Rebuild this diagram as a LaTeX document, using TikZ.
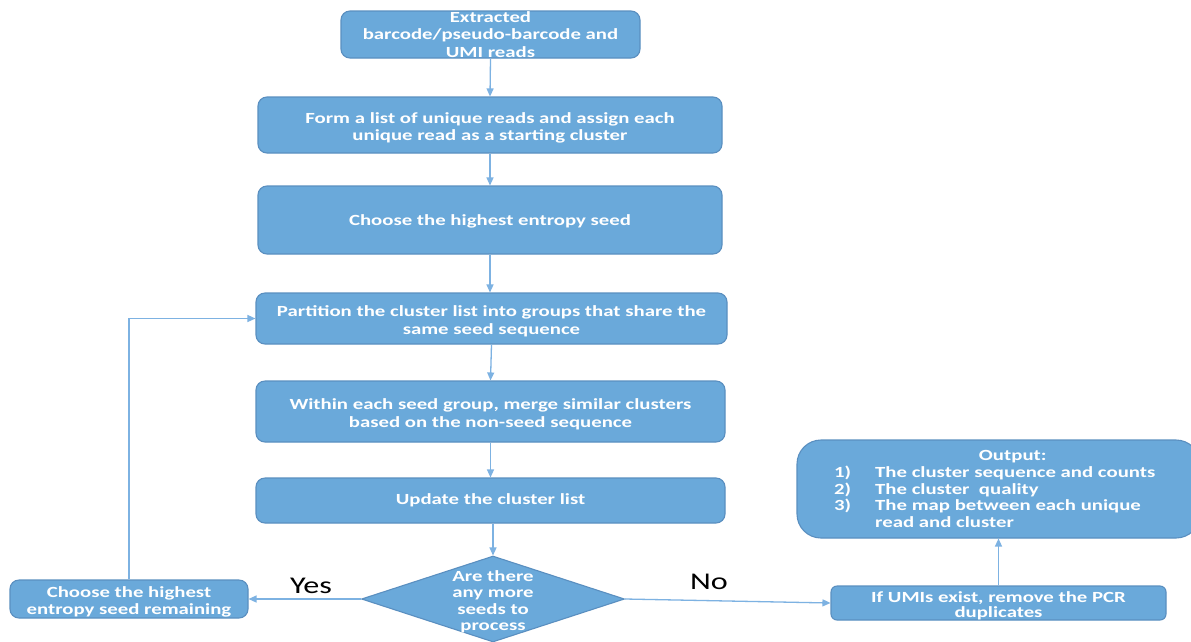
\documentclass[tikz,border=0pt]{standalone}
\usepackage{fontspec}
\setmainfont{Carlito}[FakeStretch=1.34]
\usetikzlibrary{shapes.geometric,arrows.meta}
\definecolor{boxfill}{HTML}{6AA9DA}
\definecolor{boxedge}{HTML}{5A8FC0}
\definecolor{linkc}{HTML}{7DB2E2}
% a taller first line lowers a text block inside its box
\newcommand{\lowerby}{\rule{0pt}{16.5pt}}
\begin{document}
\begin{tikzpicture}[x=1pt,y=-1pt,
  box/.style={draw=boxedge, line width=1.1pt, fill=boxfill, rounded corners=9pt,
    text=white, font=\bfseries\fontsize{15.5}{17.5}\selectfont, align=center, inner sep=0pt},
  link/.style={draw=linkc, line width=1.3pt, -{Triangle[length=8pt,width=7pt]}},
  answer/.style={font=\fontsize{24}{26}\selectfont, text=black, inner sep=0pt}]
\useasboundingbox (0,0) rectangle (1191,641);
\fill[white] (0,0) rectangle (1191,641);

% main column
\node[box, minimum width=299pt, minimum height=47pt] (extr) at (490.5,34.5)
  {Extracted\\barcode/pseudo-barcode and\\UMI reads};
\node[box, minimum width=464pt, minimum height=56pt] (form) at (490,125)
  {\lowerby Form a list of unique reads and assign each\\unique read as a starting cluster};
\node[box, minimum width=464pt, minimum height=68pt] (seed) at (490,220)
  {\rule{0pt}{14pt}Choose the highest entropy seed};
\node[box, minimum width=471pt, minimum height=51pt] (part) at (491.5,318.5)
  {\lowerby Partition the cluster list into groups that share the\\same seed sequence};
\node[box, minimum width=469pt, minimum height=61pt] (merge) at (490.5,411.5)
  {\lowerby Within each seed group, merge similar clusters\\based on the non-seed sequence};
\node[box, minimum width=469pt, minimum height=45pt] (upd) at (490.5,500.5)
  {Update the cluster list};

% decision
\node[diamond, draw=boxedge, line width=1.1pt, fill=boxfill, minimum width=263pt,
  minimum height=86pt, inner sep=0pt] (dec) at (493,599) {};
\node[text=white, font=\bfseries\fontsize{15.5}{16.5}\selectfont, align=center,
  inner sep=0pt] (dectxt) at (493,602) {Are there\\any more\\seeds to\\process};

% side boxes
\node[box, minimum width=238pt, minimum height=38pt] (rem) at (129,599)
  {\lowerby Choose the highest\\entropy seed remaining};
\node[box, minimum width=335pt, minimum height=34pt, rounded corners=6pt,
  font=\bfseries\fontsize{15.5}{15}\selectfont] (umi) at (998.5,603)
  {\lowerby If UMIs exist, remove the PCR\\duplicates};
\node[box, minimum width=403pt, minimum height=98pt, rounded corners=24pt] (out) at (998.5,489) {};
\node[text=white, font=\bfseries\fontsize{15.5}{16.8}\selectfont, inner sep=0pt,
  anchor=north west] (outtxt) at (834,448.5)
  {\begin{tabular}{@{}l@{\hspace{24pt}}l@{}}
    \multicolumn{2}{@{}c@{}}{\hspace{36pt}Output:}\\[0pt]
    1) & The cluster sequence and counts\\[0pt]
    2) & The cluster\ \ quality\\[0pt]
    3) & The map between each unique\\[-0.5pt]
       & read and cluster
  \end{tabular}};

% connectors
\draw[link] (extr.south) -- (form.north);
\draw[link] (form.south) -- (seed.north);
\draw[link] (seed.south) -- (part.north -| seed.south);
\draw[link] (part.south) -- (merge.north);
\draw[link] (merge.south) -- (upd.north);
\draw[link] (upd.south -| dec.north) -- (dec.north);
\draw[link] (dec.west) -- (rem.east);
\draw[link] (dec.east) -- (umi.west);
\draw[link] (umi.north -| out.south) -- (out.south);
\draw[link] (rem.north) |- (part.west);

\node[answer] (yes) at (311,586) {Yes};
\node[answer] (no) at (709,582) {No};
\end{tikzpicture}
\end{document}
